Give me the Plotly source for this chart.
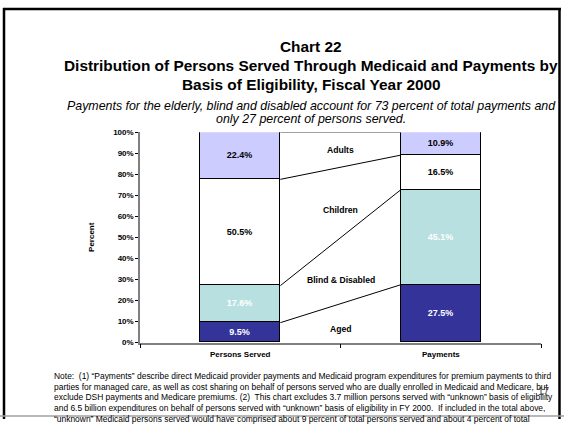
import plotly.graph_objects as go

# Chart data
categories = ["Persons Served", "Payments"]
groups = ["Aged", "Blind & Disabled", "Children", "Adults"]
persons_served = [9.5, 17.6, 50.5, 22.4]
payments = [27.5, 45.1, 16.5, 10.9]
y_ticks = [0, 10, 20, 30, 40, 50, 60, 70, 80, 90, 100]

fill_colors = ["#333399", "#B8E0E0", "#FFFFFF", "#CCCCFF"]
text_colors = ["#FFFFFF", "#FFFFFF", "#000000", "#000000"]

# Middle-gap label heights (in percent units on the y axis)
group_label_y = [6.5, 30.0, 63.0, 91.6]

title_lines = [
    "Chart 22",
    "Distribution of Persons Served Through Medicaid and Payments by",
    "Basis of Eligibility, Fiscal Year 2000",
]
subtitle_lines = [
    "Payments for the elderly, blind and disabled account for 73 percent of total payments and",
    "only 27 percent of persons served.",
]
note_lines = [
    "Note:  (1) \u201cPayments\u201d describe direct Medicaid provider payments and Medicaid program expenditures for premium payments to third",
    "parties for managed care, as well as cost sharing on behalf of persons served who are dually enrolled in Medicaid and Medicare, but",
    "exclude DSH payments and Medicare premiums. (2)  This chart excludes 3.7 million persons served with \u201cunknown\u201d basis of eligibility",
    "and 6.5 billion expenditures on behalf of persons served with \u201cunknown\u201d basis of eligibility in FY 2000.  If included in the total above,",
    "\u201cunknown\u201d Medicaid persons served would have comprised about 9 percent of total persons served and about 4 percent of total",
    "payments.",
]

W, H = 564, 424
FONT = "Liberation Sans, Arial, sans-serif"


def px(x):
    return x / W


def py(y):
    return 1 - y / H


series = [persons_served, payments]
xpos = [i + 0.5 for i in range(len(categories))]
bar_w = 0.4

fig = go.Figure()

for g_idx, g in enumerate(groups):
    vals = [s[g_idx] for s in series]
    fig.add_trace(go.Bar(
        x=xpos, y=vals, name=g, width=bar_w,
        marker=dict(color=fill_colors[g_idx], line=dict(color="#000000", width=1)),
        text=[f"{v:.1f}%" for v in vals],
        textposition="inside", insidetextanchor="middle",
        textfont=dict(family=FONT, size=9, color=text_colors[g_idx], weight="bold"),
        showlegend=False, hoverinfo="skip",
    ))

# Connector lines between the stacked segment boundaries
def cumulative(vals):
    out, total = [], 0.0
    for v in vals:
        total += v
        out.append(total)
    return out

cum_a = cumulative(persons_served)
cum_b = cumulative(payments)
x_left = xpos[0] + bar_w / 2
x_right = xpos[1] - bar_w / 2
for k in range(len(groups)):
    top = k == len(groups) - 1
    fig.add_trace(go.Scatter(
        x=[x_left, x_right], y=[cum_a[k], cum_b[k]], mode="lines",
        line=dict(color="#808080" if top else "#000000", width=1.5 if top else 1),
        showlegend=False, hoverinfo="skip",
    ))

annotations = []
for g, yv in zip(groups, group_label_y):
    annotations.append(dict(
        x=1.0, y=yv, xref="x", yref="y", text=g, showarrow=False,
        xanchor="center", yanchor="middle",
        font=dict(family=FONT, size=8.6, color="#000000", weight="bold"),
    ))

for c, xv in zip(categories, xpos):
    annotations.append(dict(
        x=xv, y=py(358), xref="x", yref="paper", text=c, showarrow=False,
        xanchor="center", yanchor="middle",
        font=dict(family=FONT, size=8, color="#000000", weight="bold"),
    ))

annotations.append(dict(
    x=px(92), y=py(238), xref="paper", yref="paper", text="Percent",
    showarrow=False, textangle=-90, xanchor="center", yanchor="middle",
    font=dict(family=FONT, size=8, color="#000000", weight="bold"),
))

for line, yc in zip(title_lines, [43, 63, 82]):
    annotations.append(dict(
        x=px(311), y=py(yc), xref="paper", yref="paper", text=line,
        showarrow=False, xanchor="center", yanchor="middle",
        font=dict(family=FONT, size=15.4, color="#000000", weight="bold"),
    ))

for line, yc in zip(subtitle_lines, [104, 118]):
    annotations.append(dict(
        x=px(311), y=py(yc), xref="paper", yref="paper", text=f"<i>{line}</i>",
        showarrow=False, xanchor="center", yanchor="middle",
        font=dict(family=FONT, size=12.4, color="#000000"),
    ))

for i, line in enumerate(note_lines):
    annotations.append(dict(
        x=px(52), y=py(380 + 11 * i), xref="paper", yref="paper",
        xanchor="left", yanchor="middle", text=line, showarrow=False,
        font=dict(family=FONT, size=8.45, color="#000000"),
    ))

annotations.append(dict(
    x=px(544), y=py(396), xref="paper", yref="paper", text="17",
    showarrow=False, xanchor="center", yanchor="middle",
    font=dict(family=FONT, size=10, color="#333333"),
))

shapes = [
    # page frame
    dict(type="line", xref="paper", yref="paper", x0=px(4), x1=px(4), y0=py(4), y1=py(424),
         line=dict(color="#000000", width=2.5)),
    dict(type="line", xref="paper", yref="paper", x0=px(559.5), x1=px(559.5), y0=py(4), y1=py(424),
         line=dict(color="#000000", width=2.5)),
    dict(type="line", xref="paper", yref="paper", x0=px(3), x1=px(561), y0=py(5), y1=py(5),
         line=dict(color="#000000", width=2.5)),
    dict(type="line", xref="paper", yref="paper", x0=px(0), x1=px(564), y0=py(421), y1=py(421),
         line=dict(color="#A0A0A0", width=1.5)),
]

fig.update_layout(
    width=W, height=H,
    margin=dict(l=0, r=0, t=0, b=0),
    paper_bgcolor="#FFFFFF", plot_bgcolor="#FFFFFF",
    barmode="stack", bargap=0,
    showlegend=False,
    annotations=annotations, shapes=shapes,
    xaxis=dict(
        domain=[px(140), px(541)], range=[0, len(categories)],
        tickvals=[0, 1, 2], ticktext=["", "", ""], ticks="outside", ticklen=4,
        tickcolor="#000000", showline=True, linecolor="#808080", linewidth=1.5,
        showgrid=False, zeroline=False, fixedrange=True,
    ),
    yaxis=dict(
        domain=[py(346), py(131)], range=[0, 100],
        tickvals=y_ticks, ticktext=[f"{v}%" for v in y_ticks],
        ticks="outside", ticklen=3, tickcolor="#000000",
        tickfont=dict(family=FONT, size=8, color="#000000", weight="bold"),
        showline=True, linecolor="#808080", linewidth=1.5,
        showgrid=False, zeroline=False, fixedrange=True,
    ),
)

fig.write_html("out.html")
